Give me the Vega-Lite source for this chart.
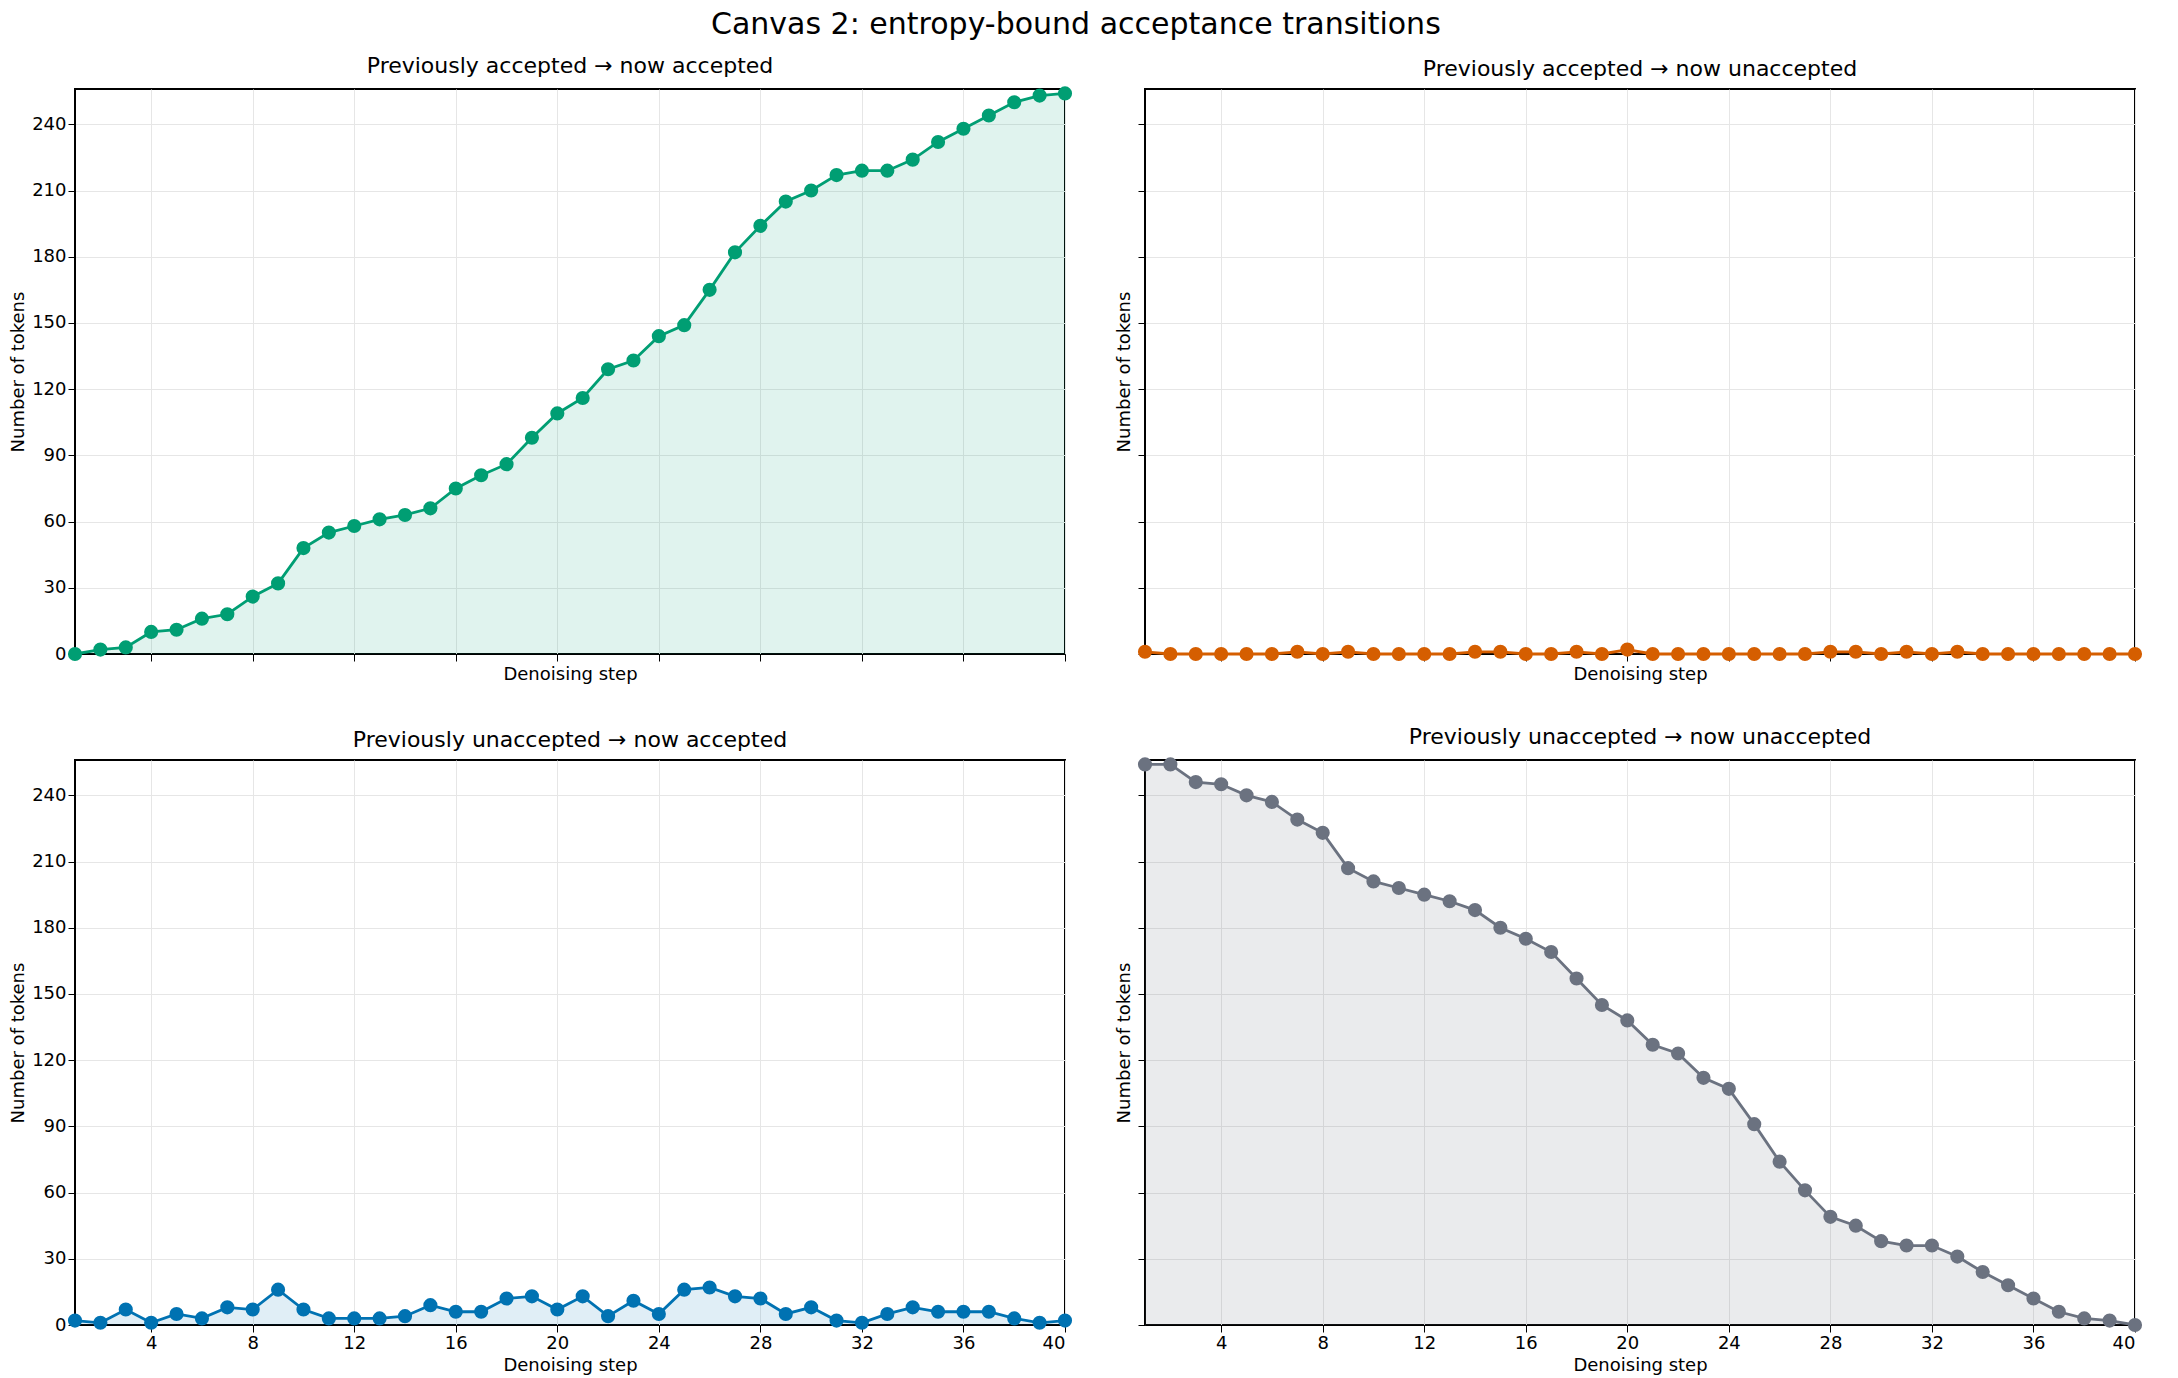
{
  "$schema": "https://vega.github.io/schema/vega-lite/v6.json",
  "title": {"text": "Canvas 2: entropy-bound acceptance transitions", "fontSize": 30, "fontWeight": "normal", "font": "DejaVu Sans", "color": "black", "anchor": "middle", "offset": 14},
  "padding": {"top": 10, "left": 8, "right": 20, "bottom": 5},
  "spacing": 40,
  "config": {
    "font": "DejaVu Sans",
    "concat": {"spacing": 40},
    "view": {"stroke": "black", "strokeWidth": 2},
    "title": {"offset": 8},
    "axis": {"labelFontSize": 18, "titleFontSize": 18, "titleFontWeight": "normal", "labelColor": "black", "titleColor": "black", "gridColor": "#e6e6e6", "domainColor": "black", "tickColor": "black", "tickSize": 7}
  },
  "datasets": {
    "aa": [0,2,3,10,11,16,18,26,32,48,55,58,61,63,66,75,81,86,98,109,116,129,133,144,149,165,182,194,205,210,217,219,219,224,232,238,244,250,253,254],
    "au": [1,0,0,0,0,0,1,0,1,0,0,0,0,1,1,0,0,1,0,2,0,0,0,0,0,0,0,1,1,0,1,0,1,0,0,0,0,0,0,0],
    "ua": [2,1,7,1,5,3,8,7,16,7,3,3,3,4,9,6,6,12,13,7,13,4,11,5,16,17,13,12,5,8,2,1,5,8,6,6,6,3,1,2],
    "uu": [254,254,246,245,240,237,229,223,207,201,198,195,192,188,180,175,169,157,145,138,127,123,112,107,91,74,61,49,45,38,36,36,31,24,18,12,6,3,2,0]
  },
  "vconcat": [
    {"hconcat": [
      {"data": {"name": "aa"}, "transform": [{"window": [{"op": "row_number", "as": "s"}]}],
       "title": {"text": "Previously accepted → now accepted", "fontSize": 22, "fontWeight": "normal"},
       "width": 990, "height": 565,
       "encoding": {"x": {"field": "s", "type": "quantitative", "scale": {"domain": [1, 40], "nice": false}, "axis": {"values": [4,8,12,16,20,24,28,32,36,40], "labels": false, "title": "Denoising step"}},
                    "y": {"field": "data", "type": "quantitative", "scale": {"domain": [0, 256], "nice": false}, "axis": {"values": [0,30,60,90,120,150,180,210,240], "title": "Number of tokens"}}},
       "layer": [{"mark": {"type": "area", "color": "#009E73", "opacity": 0.12}},
                 {"mark": {"type": "line", "color": "#009E73", "strokeWidth": 2.8, "point": {"size": 200, "filled": true, "opacity": 1, "color": "#009E73"}}}]},
      {"data": {"name": "au"}, "transform": [{"window": [{"op": "row_number", "as": "s"}]}],
       "title": {"text": "Previously accepted → now unaccepted", "fontSize": 22, "fontWeight": "normal"},
       "width": 990, "height": 565,
       "encoding": {"x": {"field": "s", "type": "quantitative", "scale": {"domain": [1, 40], "nice": false}, "axis": {"values": [4,8,12,16,20,24,28,32,36,40], "labels": false, "title": "Denoising step"}},
                    "y": {"field": "data", "type": "quantitative", "scale": {"domain": [0, 256], "nice": false}, "axis": {"values": [0,30,60,90,120,150,180,210,240], "labels": false, "title": "Number of tokens"}}},
       "layer": [{"mark": {"type": "area", "color": "#D55E00", "opacity": 0.12}},
                 {"mark": {"type": "line", "color": "#D55E00", "strokeWidth": 2.8, "point": {"size": 200, "filled": true, "opacity": 1, "color": "#D55E00"}}}]}
    ]},
    {"hconcat": [
      {"data": {"name": "ua"}, "transform": [{"window": [{"op": "row_number", "as": "s"}]}],
       "title": {"text": "Previously unaccepted → now accepted", "fontSize": 22, "fontWeight": "normal"},
       "width": 990, "height": 565,
       "encoding": {"x": {"field": "s", "type": "quantitative", "scale": {"domain": [1, 40], "nice": false}, "axis": {"values": [4,8,12,16,20,24,28,32,36,40], "title": "Denoising step"}},
                    "y": {"field": "data", "type": "quantitative", "scale": {"domain": [0, 256], "nice": false}, "axis": {"values": [0,30,60,90,120,150,180,210,240], "title": "Number of tokens"}}},
       "layer": [{"mark": {"type": "area", "color": "#0072B2", "opacity": 0.12}},
                 {"mark": {"type": "line", "color": "#0072B2", "strokeWidth": 2.8, "point": {"size": 200, "filled": true, "opacity": 1, "color": "#0072B2"}}}]},
      {"data": {"name": "uu"}, "transform": [{"window": [{"op": "row_number", "as": "s"}]}],
       "title": {"text": "Previously unaccepted → now unaccepted", "fontSize": 22, "fontWeight": "normal"},
       "width": 990, "height": 565,
       "encoding": {"x": {"field": "s", "type": "quantitative", "scale": {"domain": [1, 40], "nice": false}, "axis": {"values": [4,8,12,16,20,24,28,32,36,40], "title": "Denoising step"}},
                    "y": {"field": "data", "type": "quantitative", "scale": {"domain": [0, 256], "nice": false}, "axis": {"values": [0,30,60,90,120,150,180,210,240], "labels": false, "title": "Number of tokens"}}},
       "layer": [{"mark": {"type": "area", "color": "#6B7280", "opacity": 0.14}},
                 {"mark": {"type": "line", "color": "#6B7280", "strokeWidth": 2.8, "point": {"size": 200, "filled": true, "opacity": 1, "color": "#6B7280"}}}]}
    ]}
  ]
}
